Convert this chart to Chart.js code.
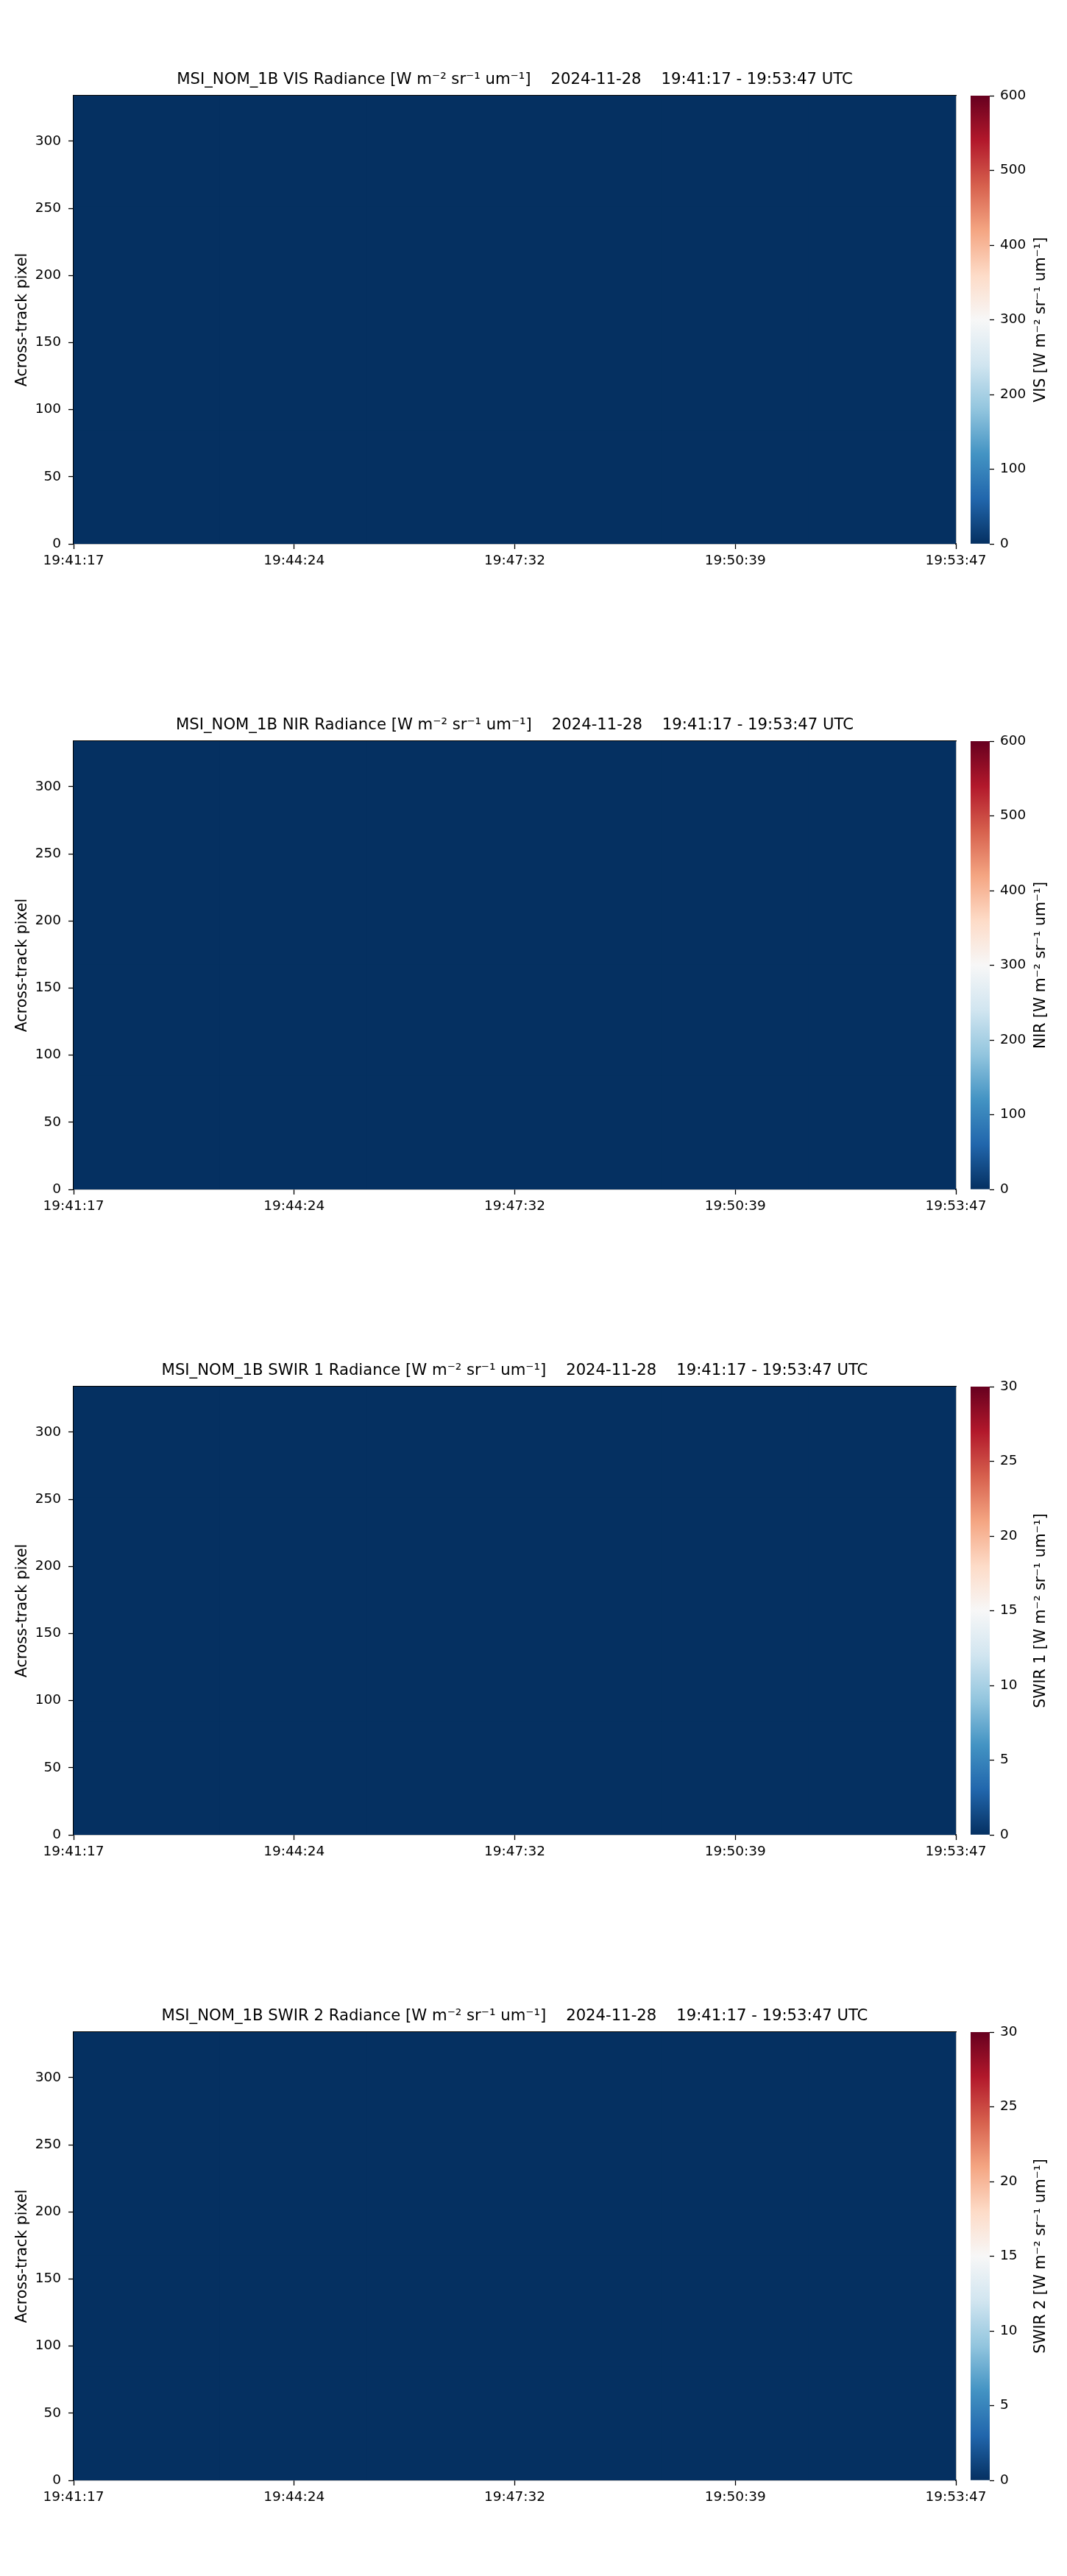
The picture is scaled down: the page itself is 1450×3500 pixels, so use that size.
<!DOCTYPE html>
<html>
<head>
    <title>MSI_NOM_1B Radiance</title>
    <script src="https://cdn.jsdelivr.net/npm/chart.js"></script>
    <style>
        body { margin: 0; background: #fff; }
        #page { position: relative; width: 1450px; height: 3500px; background: #fff; overflow: hidden; }
        #page canvas { position: absolute; }
    </style>
</head>
<body>
    <div id="page"></div>
    <script>
        // --- data ---
        const productName = 'MSI_NOM_1B';
        const orbitDate = '2024-11-28';
        const timeRange = '19:41:17 - 19:53:47 UTC';
        const units = 'W m⁻² sr⁻¹ um⁻¹';
        const channelNames = ['VIS', 'NIR', 'SWIR 1', 'SWIR 2'];
        const colorbarMax = [600, 600, 30, 30];
        const colorbarStep = [100, 100, 5, 5];

        // seconds since 19:41:17
        const xTickSeconds = [0, 187.5, 375, 562.5, 750];
        const xTickLabels = ['19:41:17', '19:44:24', '19:47:32', '19:50:39', '19:53:47'];
        const yTickValues = [0, 50, 100, 150, 200, 250, 300];
        const pixelMax = 334;

        const timeBinEdges = [0, 125, 250, 375, 500, 625, 750];
        const pixelBandEdges = [0, 84, 167, 251, 334];

        // radiance per across-track band (rows) and time bin (cols) - all dark (night side)
        const visRadiance = [
            [0, 0, 0, 0, 0, 0],
            [0, 0, 0, 0, 0, 0],
            [0, 0, 0, 0, 0, 0],
            [0, 0, 0, 0, 0, 0]
        ];
        const nirRadiance = [
            [0, 0, 0, 0, 0, 0],
            [0, 0, 0, 0, 0, 0],
            [0, 0, 0, 0, 0, 0],
            [0, 0, 0, 0, 0, 0]
        ];
        const swir1Radiance = [
            [0, 0, 0, 0, 0, 0],
            [0, 0, 0, 0, 0, 0],
            [0, 0, 0, 0, 0, 0],
            [0, 0, 0, 0, 0, 0]
        ];
        const swir2Radiance = [
            [0, 0, 0, 0, 0, 0],
            [0, 0, 0, 0, 0, 0],
            [0, 0, 0, 0, 0, 0],
            [0, 0, 0, 0, 0, 0]
        ];
        const channelValues = [visRadiance, nirRadiance, swir1Radiance, swir2Radiance];

        // --- styling ---
        Chart.defaults.font.family = '"DejaVu Sans", sans-serif';
        Chart.defaults.color = '#000';

        const rdbuR = ['#053061', '#2166ac', '#4393c3', '#92c5de', '#d1e5f0', '#f7f7f7',
                       '#fddbc7', '#f4a582', '#d6604d', '#b2182b', '#67001f'];

        function hexToRgb(h) {
            return [1, 3, 5].map(i => parseInt(h.substr(i, 2), 16));
        }

        function cmap(t) {
            t = Math.max(0, Math.min(1, t));
            const p = t * (rdbuR.length - 1);
            const i = Math.min(Math.floor(p), rdbuR.length - 2);
            const f = p - i;
            const a = hexToRgb(rdbuR[i]), b = hexToRgb(rdbuR[i + 1]);
            return 'rgb(' + a.map((v, k) => Math.round(v + (b[k] - v) * f)).join(',') + ')';
        }

        const colorbarLabel = {
            id: 'colorbarLabel',
            afterDraw(chart, args, opts) {
                const { ctx, chartArea } = chart;
                ctx.save();
                ctx.translate(opts.x, (chartArea.top + chartArea.bottom) / 2);
                ctx.rotate(-Math.PI / 2);
                ctx.font = '20.5px "DejaVu Sans"';
                ctx.fillStyle = '#000';
                ctx.textAlign = 'center';
                ctx.textBaseline = 'middle';
                ctx.fillText(opts.text, 0, 0);
                ctx.restore();
            }
        };

        const page = document.getElementById('page');
        const PLOT_TOP = 130, PANEL_STEP = 877, PLOT_H = 609;
        const frame = { display: true, color: '#000', width: 1.3 };

        function makePanel(idx) {
            const top = PLOT_TOP + PANEL_STEP * idx;
            const vmax = colorbarMax[idx];

            const canvas = document.createElement('canvas');
            canvas.width = 1360;
            canvas.height = PLOT_H + 95;
            canvas.style.left = '0px';
            canvas.style.top = (top - 45) + 'px';
            page.appendChild(canvas);

            // one floating-bar dataset per across-track band; cells overlap slightly so no seams show
            const datasets = channelValues[idx].map((row, b) => ({
                data: row.map((v, t) => ({
                    x: (timeBinEdges[t] + timeBinEdges[t + 1]) / 2,
                    y: [pixelBandEdges[b], pixelBandEdges[b + 1]]
                })),
                backgroundColor: row.map(v => cmap(v / vmax)),
                borderWidth: 0,
                inflateAmount: 1,
                grouped: false,
                barPercentage: 1,
                categoryPercentage: 1
            }));

            new Chart(canvas, {
                type: 'bar',
                data: { datasets },
                options: {
                    responsive: false,
                    animation: false,
                    devicePixelRatio: 1,
                    layout: { padding: { left: 0, right: 61, top: 0, bottom: 0 } },
                    plugins: {
                        legend: { display: false },
                        tooltip: { enabled: false },
                        title: {
                            display: true,
                            fullSize: false,
                            text: productName + ' ' + channelNames[idx] + ' Radiance [' + units + ']    ' +
                                  orbitDate + '    ' + timeRange,
                            font: { size: 21.2, weight: 'normal' },
                            color: '#000',
                            padding: { top: 10.3, bottom: 9.26 }
                        }
                    },
                    scales: {
                        x: {
                            type: 'linear',
                            min: 0,
                            max: 750,
                            offset: false,
                            afterBuildTicks: s => { s.ticks = xTickSeconds.map(v => ({ value: v })); },
                            afterFit: s => { s.height = 50; },
                            ticks: {
                                callback: (v, i) => xTickLabels[i],
                                autoSkip: false,
                                maxRotation: 0,
                                font: { size: 18.5 },
                                color: '#000',
                                padding: 5
                            },
                            grid: { display: true, drawOnChartArea: false, offset: false, tickLength: 7, tickColor: '#000', tickWidth: 1.3 },
                            border: frame
                        },
                        y: {
                            min: 0,
                            max: pixelMax,
                            afterBuildTicks: s => { s.ticks = yTickValues.map(v => ({ value: v })); },
                            afterFit: s => { s.width = 100; },
                            ticks: { font: { size: 18.5 }, color: '#000', padding: 10 },
                            grid: { display: true, drawOnChartArea: false, tickLength: 7, tickColor: '#000', tickWidth: 1.3 },
                            border: frame,
                            title: {
                                display: true,
                                text: 'Across-track pixel',
                                font: { size: 20.5 },
                                color: '#000',
                                padding: { top: 18, bottom: 0 }
                            }
                        },
                        xTop: {
                            type: 'linear', position: 'top', min: 0, max: 750,
                            ticks: { display: false },
                            grid: { display: false, drawTicks: false },
                            border: frame
                        },
                        yRight: {
                            type: 'linear', position: 'right', min: 0, max: pixelMax,
                            ticks: { display: false },
                            grid: { display: false, drawTicks: false },
                            border: frame
                        }
                    }
                }
            });

            // colorbar
            const cb = document.createElement('canvas');
            cb.width = 160;
            cb.height = PLOT_H + 40;
            cb.style.left = '1290px';
            cb.style.top = (top - 20) + 'px';
            page.appendChild(cb);

            new Chart(cb, {
                type: 'bar',
                data: {
                    labels: [channelNames[idx]],
                    datasets: [{
                        data: [[0, vmax]],
                        backgroundColor: c => {
                            const a = c.chart.chartArea;
                            if (!a) return rdbuR[0];
                            const g = c.chart.ctx.createLinearGradient(0, a.bottom, 0, a.top);
                            rdbuR.forEach((col, i) => g.addColorStop(i / (rdbuR.length - 1), col));
                            return g;
                        },
                        borderWidth: 0,
                        barPercentage: 1,
                        categoryPercentage: 1
                    }]
                },
                options: {
                    responsive: false,
                    animation: false,
                    devicePixelRatio: 1,
                    layout: { padding: { left: 29, right: 0, top: 20, bottom: 20 } },
                    plugins: {
                        legend: { display: false },
                        tooltip: { enabled: false },
                        colorbarLabel: { x: 125, text: channelNames[idx] + ' [' + units + ']' }
                    },
                    scales: {
                        x: { display: false },
                        y: {
                            position: 'right',
                            min: 0,
                            max: vmax,
                            afterFit: s => { s.width = 105; },
                            ticks: { stepSize: colorbarStep[idx], font: { size: 18.5 }, color: '#000', padding: 8 },
                            grid: { display: true, drawOnChartArea: false, tickLength: 6, tickColor: '#000', tickWidth: 1.3 },
                            border: { display: false }
                        }
                    }
                },
                plugins: [colorbarLabel]
            });
        }

        channelNames.forEach((name, i) => makePanel(i));
    </script>
</body>
</html>
